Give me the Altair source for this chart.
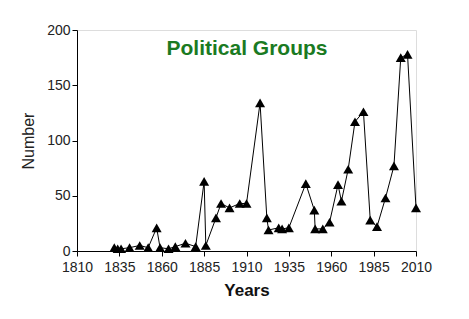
import altair as alt
import pandas as pd

years = [1832, 1834, 1836, 1841, 1847, 1852, 1857, 1859, 1864, 1868, 1874, 1880,
         1885, 1886, 1892, 1895, 1900, 1906, 1910, 1918, 1922, 1923, 1929, 1931,
         1935, 1945, 1950, 1950.5, 1955, 1959, 1964, 1966, 1970, 1974, 1979, 1983,
         1987, 1992, 1997, 2001, 2005, 2010]
values = [3, 2, 2, 3, 5, 3, 21, 3, 2, 4, 7, 4,
          63, 5, 30, 43, 39, 43, 43, 134, 30, 19, 21, 20,
          21, 61, 37, 20, 20, 26, 60, 45, 74, 117, 126, 28,
          22, 48, 77, 175, 178, 39]
x_ticks = [1810, 1835, 1860, 1885, 1910, 1935, 1960, 1985, 2010]
y_ticks = [0, 50, 100, 150, 200]

df = pd.DataFrame({"year": years, "value": values, "order": list(range(len(years)))})

FONT = "Liberation Sans"

x = alt.X("year:Q", scale=alt.Scale(domain=[1810, 2010], nice=False, zero=False),
          axis=alt.Axis(values=x_ticks, format="d", title="Years", grid=False,
                        labelFont=FONT, labelFontSize=14, labelColor="#222",
                        labelPadding=4, tickSize=5, tickColor="black",
                        domainColor="black", titleFont=FONT, titleFontSize=17,
                        titleFontWeight="bold", titleColor="#111", titlePadding=8,
                        labelFlush=False, labelOverlap=False))
y = alt.Y("value:Q", scale=alt.Scale(domain=[0, 200], nice=False),
          axis=alt.Axis(values=y_ticks, title="Number", grid=False,
                        labelFont=FONT, labelFontSize=14, labelColor="#222",
                        labelPadding=2, tickSize=5, tickColor="black",
                        domainColor="black", titleFont=FONT, titleFontSize=16,
                        titleFontWeight="normal", titleColor="#222", titlePadding=10,
                        labelFlush=False))

base = alt.Chart(df)
line = base.mark_line(color="black", strokeWidth=1).encode(x=x, y=y, order="order:Q")
pts = base.mark_point(shape="triangle-up", filled=True, color="black", size=100, opacity=1).encode(x=x, y=y)

title = alt.Chart(pd.DataFrame({"t": ["Political Groups"]})).mark_text(
    font=FONT, fontSize=21, fontWeight="bold", color="#1a7a22", align="center", baseline="alphabetic"
).encode(text="t:N", x=alt.value(170), y=alt.value(25))

chart = (line + pts + title).properties(
    width=339, height=221,
    autosize=alt.AutoSizeParams(type="none"),
    padding={"left": 77, "top": 30, "right": 53, "bottom": 68},
).configure_view(stroke=None).configure(background="white")

chart.save("out.html", embed_options={"renderer": "svg", "actions": False})
